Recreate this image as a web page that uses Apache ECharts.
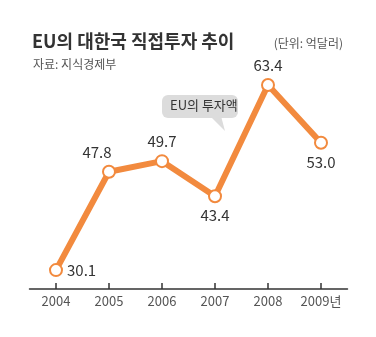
<!DOCTYPE html>
<html><head><meta charset="utf-8">
<script src="https://cdn.jsdelivr.net/npm/echarts@6/dist/echarts.min.js"></script>
<style>html,body{margin:0;padding:0;background:#fff}#c{width:376px;height:337px}</style>
</head><body><div id="c"></div>
<script>
var years = ['2004','2005','2006','2007','2008','2009'];
var investment = [30.1, 47.8, 49.7, 43.4, 63.4, 53.0];
var labelPos = ['right','top','top','bottom','top','bottom'];
var title = 'EU의 대한국 직접투자 추이';
var unitText = '(단위: 억달러)';
var sourceText = '자료: 지식경제부';
var noteText = 'EU의 투자액';

var font = '"Noto Sans CJK KR", "Noto Sans", sans-serif';
var chart = echarts.init(document.getElementById('c'), null, {renderer:'canvas'});
var data = investment.map(function(v,i){
  var p = labelPos[i];
  var lab = {position: p, distance: 5};
  if (i === 1) { lab.offset = [-12, 0]; }
  if (p === 'right') { lab.distance = 4; }
  return {value: v, label: lab};
});
chart.setOption({
  backgroundColor:'#fff',
  animation:false,
  textStyle:{fontFamily:font},
  title:[
    {text:title, left:27, top:27, textStyle:{fontSize:18, fontWeight:'bold', color:'#333', fontFamily:font}},
    {text:sourceText, left:28, top:53, textStyle:{fontSize:12, fontWeight:'normal', color:'#555', fontFamily:font}},
    {text:unitText, right:28, top:32, textStyle:{fontSize:12, fontWeight:'normal', color:'#555', fontFamily:font}}
  ],
  grid:{left:29.5, right:28.5, top:60, bottom:48, containLabel:false},
  xAxis:{
    type:'category', data:years, boundaryGap:true,
    axisLine:{lineStyle:{color:'#333', width:1.5}},
    axisTick:{show:true, inside:true, length:6, interval:0, alignWithLabel:true, lineStyle:{color:'#333', width:1.5}},
    axisLabel:{color:'#555', fontSize:13, margin:6, interval:0, fontFamily:font,
      formatter:function(v,i){ return i === years.length-1 ? v + '년' : v; }}
  },
  yAxis:{type:'value', min:26.7, max:67.9, show:false, splitLine:{show:false}},
  series:[{
    type:'line', data:data,
    lineStyle:{color:'#F28A3E', width:6},
    itemStyle:{color:'#fff', borderColor:'#F28A3E', borderWidth:2},
    symbol:'circle', symbolSize:12, showAllSymbol:true,
    label:{show:true, fontSize:15, color:'#333', fontFamily:font,
      formatter:function(p){ return p.value.toFixed(1); }},
    z:3
  }],
  graphic:[
    {type:'polygon', shape:{points:[[210,116],[221,116],[225,131]]}, style:{fill:'#dcdcdc'}, z:1},
    {type:'rect', shape:{x:162, y:95, width:76, height:23, r:6}, style:{fill:'#dcdcdc'}, z:1},
    {type:'text', left:170, top:99, style:{text:noteText, fill:'#333', fontSize:13, fontFamily:font}, z:2}
  ]
});
</script></body></html>
